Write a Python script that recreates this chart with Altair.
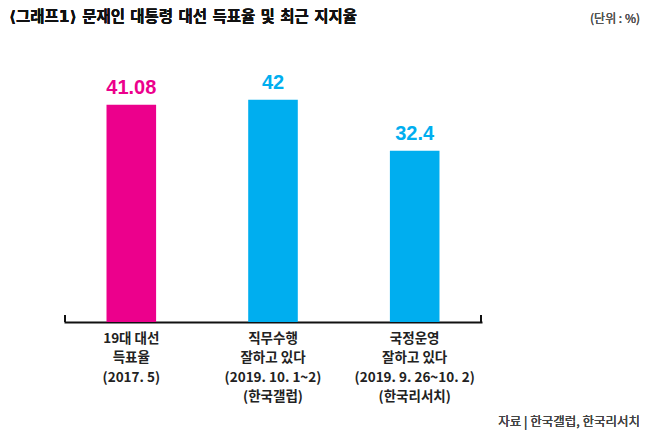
import altair as alt
import pandas as pd

categories = [
    "19대 대선\n득표율\n(2017. 5)",
    "직무수행\n잘하고 있다\n(2019. 10. 1~2)\n(한국갤럽)",
    "국정운영\n잘하고 있다\n(2019. 9. 26~10. 2)\n(한국리서치)",
]
values = [41.08, 42, 32.4]
value_labels = ["41.08", "42", "32.4"]
bar_colors = ["#EC008C", "#00AEEF", "#00AEEF"]

title_text = "⟨그래프1⟩ 문재인 대통령 대선 득표율 및 최근 지지율"
unit_text = "(단위 : %)"
source_text = "자료 | 한국갤럽, 한국리서치"

df = pd.DataFrame({"cat": categories, "val": values, "lab": value_labels})

W, H = 418, 238
KFONT = "Noto Sans CJK KR"

x = alt.X(
    "cat:N",
    sort=None,
    scale=alt.Scale(paddingInner=0.65, paddingOuter=0.3),
    axis=alt.Axis(
        title=None,
        labelAngle=0,
        labelExpr="split(datum.label, '\\n')",
        labelFont=KFONT,
        labelFontSize=13.5,
        labelFontWeight="bold",
        labelColor="#222222",
        labelLineHeight=19.5,
        labelPadding=9,
        labelBaseline="top",
        domainColor="#111111",
        domainWidth=2,
        ticks=False,
        grid=False,
    ),
)
y = alt.Y(
    "val:Q",
    scale=alt.Scale(domain=[0, 45]),
    axis=None,
)

bars = alt.Chart(df).mark_bar().encode(
    x=x,
    y=y,
    color=alt.Color(
        "cat:N",
        sort=None,
        scale=alt.Scale(domain=categories, range=bar_colors),
        legend=None,
    ),
)

labels = alt.Chart(df).mark_text(
    baseline="bottom", dy=-7, fontSize=20, fontWeight="bold", font="Liberation Sans"
).encode(
    x=alt.X("cat:N", sort=None),
    y="val:Q",
    text="lab:N",
    color=alt.Color("cat:N", sort=None, scale=alt.Scale(domain=categories, range=bar_colors), legend=None),
)

cap_left = alt.Chart(df).mark_rule(strokeWidth=2, color="#111111").encode(
    x=alt.value(1), y=alt.value(H - 7), y2=alt.value(H)
)
cap_right = alt.Chart(df).mark_rule(strokeWidth=2, color="#111111").encode(
    x=alt.value(W - 1), y=alt.value(H - 7), y2=alt.value(H)
)

title = alt.Chart(df).mark_text(
    align="left", baseline="middle", font="DejaVu Sans, Noto Sans CJK KR", fontSize=15.5,
    fontWeight="bold", color="#111111"
).encode(x=alt.value(-55), y=alt.value(-67), text=alt.value(title_text))

unit = alt.Chart(df).mark_text(
    align="right", baseline="middle", font=KFONT, fontSize=12, color="#555555"
).encode(x=alt.value(576), y=alt.value(-65), text=alt.value(unit_text))

source = alt.Chart(df).mark_text(
    align="right", baseline="middle", font=KFONT, fontSize=12.5, color="#444444"
).encode(x=alt.value(576), y=alt.value(H + 100), text=alt.value(source_text))

chart = alt.layer(bars, labels, cap_left, cap_right, title, unit, source).properties(
    width=W,
    height=H,
    padding={"left": 56, "top": 76, "right": 160, "bottom": 112},
    autosize=alt.AutoSizeParams(type="none"),
    background="white",
).configure_view(strokeWidth=0, stroke=None)

chart.save("out.html", embed_options={"renderer": "svg", "actions": False})
